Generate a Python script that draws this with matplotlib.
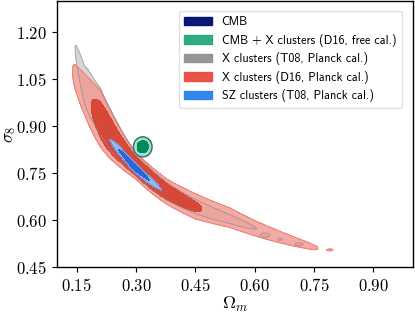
import numpy as np
import matplotlib
matplotlib.use("Agg")
import matplotlib.pyplot as plt
from matplotlib.patches import Patch

plt.rcParams["mathtext.fontset"] = "cm"

# ---------------- data ----------------
# Legend
labels = ["CMB", "CMB + X clusters (D16, free cal.)", "X clusters (T08, Planck cal.)",
          "X clusters (D16, Planck cal.)", "SZ clusters (T08, Planck cal.)"]
legend_colors = ["#000c6e", "#25a77b", "#909090", "#e84b3e", "#2a80ea"]

# Ticks
xticks = [0.15, 0.30, 0.45, 0.60, 0.75, 0.90]
yticks = [0.45, 0.60, 0.75, 0.90, 1.05, 1.20]

# X clusters (D16, Planck cal.): ridge, half width (ln sigma8, /2.48) and along-profile chi2
red_ridge_om = [0.12, 0.145, 0.17, 0.21, 0.30, 0.378, 0.45, 0.538, 0.60, 0.76, 0.85]
red_ridge_s8 = [1.14, 1.06, 1.00, 0.92, 0.772, 0.69, 0.643, 0.607, 0.574, 0.51, 0.48]
red_w_om = [0.12, 0.155, 0.21, 0.30, 0.378, 0.45, 0.538, 0.60, 0.76, 0.85]
red_w = [0.03, 0.033, 0.042, 0.022, 0.0246, 0.029, 0.026, 0.023, 0.02, 0.02]
red_g_om = [0.12, 0.14, 0.188, 0.23, 0.33, 0.466, 0.60, 0.76, 0.85]
red_g = [9.0, 6.17, 2.3, 0.0, 0.0, 2.3, 3.6, 6.17, 9.0]
red_island = [0.79, 0.505]

# X clusters (T08, Planck cal.)
gray_ridge_om = [0.12, 0.146, 0.17, 0.21, 0.30, 0.378, 0.45, 0.538, 0.60, 0.75]
gray_ridge_s8 = [1.26, 1.15, 1.03, 0.945, 0.775, 0.692, 0.643, 0.603, 0.575, 0.52]
gray_w_om = [0.12, 0.16, 0.21, 0.30, 0.45, 0.60, 0.75]
gray_w = [0.03, 0.035, 0.035, 0.02, 0.018, 0.02, 0.02]
gray_g_om = [0.12, 0.146, 0.18, 0.25, 0.45, 0.605, 0.70]
gray_g = [9.0, 6.17, 2.3, 0.0, 2.3, 6.17, 9.0]
gray_islands_om = [0.626, 0.664, 0.712]
gray_islands_s8 = [0.552, 0.539, 0.523]
gray_islands_size = [0.018, 0.008, 0.013]

# SZ clusters (T08, Planck cal.)
blue_ridge_om = [0.20, 0.234, 0.26, 0.30, 0.34, 0.365, 0.40]
blue_ridge_s8 = [0.90, 0.857, 0.82, 0.765, 0.722, 0.697, 0.675]
blue_w_om = [0.20, 0.40]
blue_w = [0.0085, 0.0085]
blue_g_om = [0.20, 0.234, 0.255, 0.295, 0.335, 0.365, 0.40]
blue_g = [9.0, 6.17, 2.3, 0.0, 2.3, 6.17, 9.0]

# CMB + X clusters (D16, free cal.): mean and std
green_mean = [0.317, 0.834]
green_std = [0.0095, 0.0129]

LEVELS = [2.30, 6.17]  # 68% and 95% chi2

# ---------------- figure ----------------
fig = plt.figure(figsize=(4.15, 3.15), dpi=100)
ax = fig.add_axes([0.137, 0.152, 0.858, 0.845])

om = np.linspace(0.1, 1.0, 700)
s8 = np.linspace(0.45, 1.3, 700)
OM, S8 = np.meshgrid(om, s8)
U, V = np.log(OM), np.log(S8)


def band_chi2(r_om, r_s8, w_om, w, g_om, g, q=2.0):
    ridge = np.interp(U, np.log(r_om), np.log(r_s8))
    ww = np.interp(U, np.log(w_om), w)
    gg = np.interp(U, np.log(g_om), g, left=g[0], right=g[-1])
    return LEVELS[1] * (np.abs(V - ridge) / (ww * np.sqrt(LEVELS[1]))) ** q + gg


def island_chi2(o, s, size):
    return ((U - np.log(o)) / size) ** 2 + ((V - np.log(s)) / size) ** 2 * 2.5 + 5.0


# gray
chi_g = band_chi2(gray_ridge_om, gray_ridge_s8, gray_w_om, gray_w, gray_g_om, gray_g)
for o, s, sz in zip(gray_islands_om, gray_islands_s8, gray_islands_size):
    chi_g = np.minimum(chi_g, island_chi2(o, s, sz))
ax.contourf(OM, S8, chi_g, levels=[0, LEVELS[1]], colors=["#d6d6d6"], zorder=1)

# red
chi_r = band_chi2(red_ridge_om, red_ridge_s8, red_w_om, red_w, red_g_om, red_g, q=3.0)
chi_r = np.minimum(chi_r, island_chi2(red_island[0], red_island[1], 0.009))
ax.contourf(OM, S8, chi_r, levels=[LEVELS[0], LEVELS[1]], colors=["#f09a92"], alpha=0.82, zorder=2)
ax.contourf(OM, S8, chi_r, levels=[0, LEVELS[0]], colors=["#d9402f"], alpha=0.95, zorder=2)
ax.contour(OM, S8, chi_r, levels=[LEVELS[1]], colors=["#f28178"], linewidths=0.8, zorder=3)
ax.contour(OM, S8, chi_g, levels=[LEVELS[1]], colors=["#8c8c8c"], linewidths=0.8, alpha=0.55, zorder=3)

# blue
chi_b = band_chi2(blue_ridge_om, blue_ridge_s8, blue_w_om, blue_w, blue_g_om, blue_g)
ax.contourf(OM, S8, chi_b, levels=[LEVELS[0], LEVELS[1]], colors=["#9cb9ee"], zorder=4)
ax.contourf(OM, S8, chi_b, levels=[0, LEVELS[0]], colors=["#2a66d6"], zorder=4)
ax.contour(OM, S8, chi_b, levels=[LEVELS[1]], colors=["#5a86d8"], linewidths=0.6, zorder=4)

# green
chi_gr = ((OM - green_mean[0]) / green_std[0]) ** 2 + ((S8 - green_mean[1]) / green_std[1]) ** 2
ax.contourf(OM, S8, chi_gr, levels=[LEVELS[0], LEVELS[1]], colors=["#a3dcc8"], zorder=5)
ax.contourf(OM, S8, chi_gr, levels=[0, LEVELS[0]], colors=["#008a5e"], zorder=5)
ax.contour(OM, S8, chi_gr, levels=[LEVELS[1]], colors=["#2d6e6e"], linewidths=1.0, zorder=5)

ax.set_xlim(0.1, 1.0)
ax.set_ylim(0.45, 1.3)
ax.set_xticks(xticks)
ax.set_xticklabels([f"${t:.2f}$" for t in xticks], fontsize=12)
ax.set_yticks(yticks)
ax.set_yticklabels([f"${t:.2f}$" for t in yticks], fontsize=12)
ax.tick_params(direction="out", length=3.5, width=0.8)
ax.set_xlabel(r"$\Omega_m$", fontsize=13, labelpad=0)
ax.set_ylabel(r"$\sigma_8$", fontsize=12.5)
ax.yaxis.set_label_coords(-0.108, 0.5)
for sp in ax.spines.values():
    sp.set_linewidth(1.0)

handles = [Patch(facecolor=c, edgecolor=c, alpha=0.95) for c in legend_colors]
leg = ax.legend(handles, labels, loc="upper right", prop={"family": "cmss10", "size": 8.7},
                handlelength=2.3, handleheight=0.7, labelspacing=0.45, borderpad=0.45,
                handletextpad=0.8, framealpha=0.9, edgecolor="#dddddd", fancybox=True,
                bbox_to_anchor=(0.985, 0.985))

fig.savefig("out.png", dpi=100)
